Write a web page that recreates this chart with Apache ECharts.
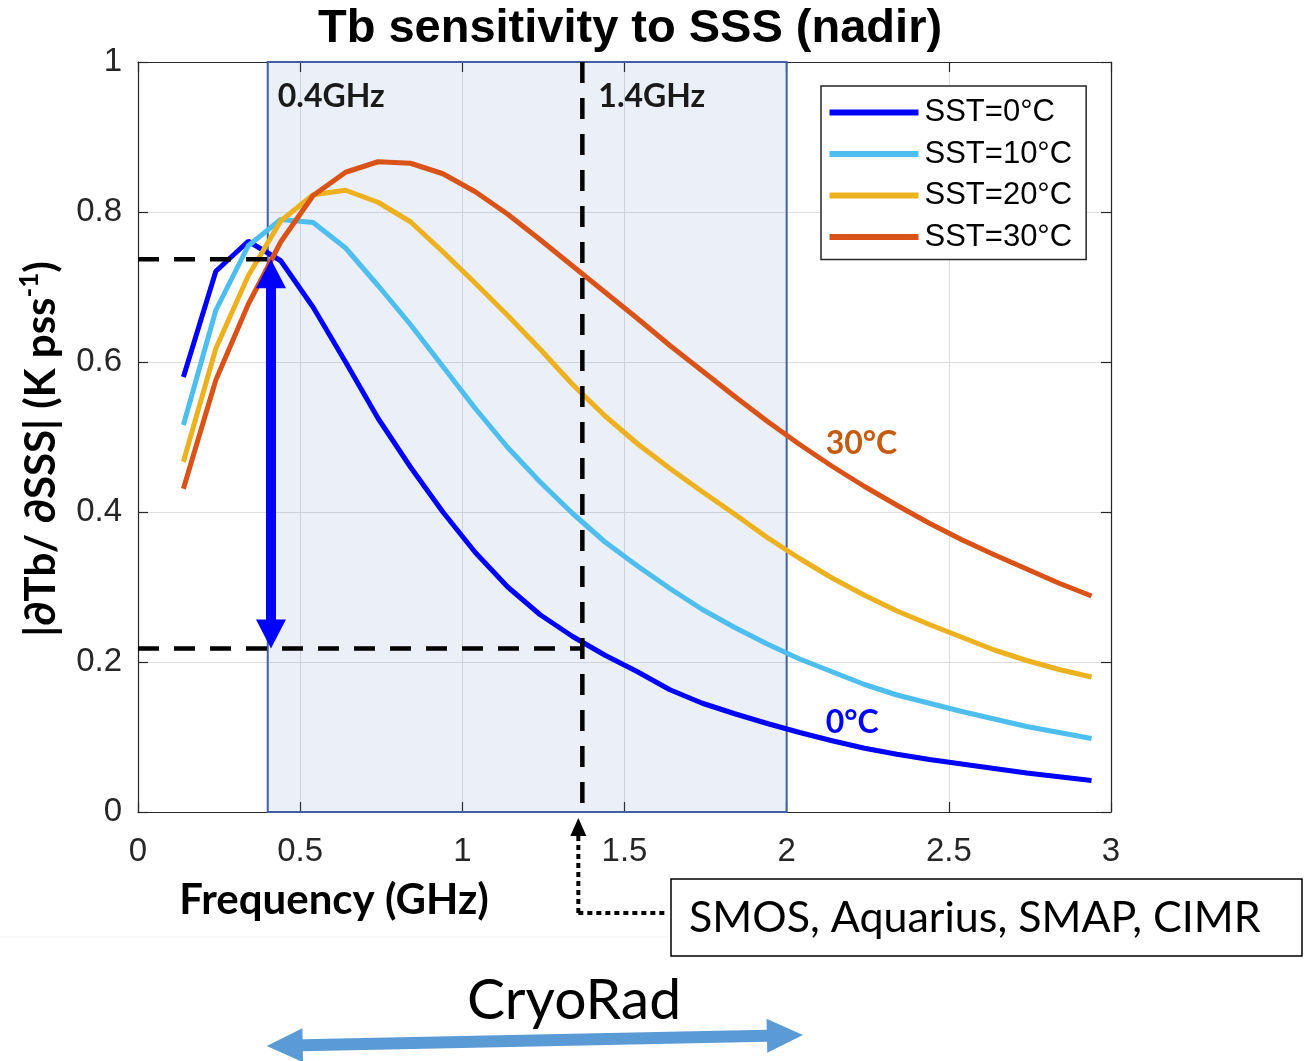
<!DOCTYPE html>
<html><head><meta charset="utf-8">
<script src="https://cdn.jsdelivr.net/npm/echarts@6/dist/echarts.min.js"></script>
<style>html,body{margin:0;padding:0;background:#fff}#c{width:1304px;height:1061px}</style>
</head><body><div id="c"></div>
<script>
// ---------- data ----------
const titleText = 'Tb sensitivity to SSS (nadir)';
const freq = [0.14,0.24,0.34,0.44,0.54,0.64,0.74,0.84,0.94,1.04,1.14,1.24,1.34,1.44,1.54,1.64,1.74,1.84,1.94,2.04,2.14,2.24,2.34,2.44,2.54,2.64,2.74,2.84,2.94];
const sst0  = [0.580,0.721,0.761,0.735,0.673,0.600,0.525,0.460,0.400,0.346,0.300,0.263,0.234,0.209,0.187,0.163,0.145,0.131,0.118,0.106,0.095,0.085,0.077,0.070,0.064,0.058,0.052,0.047,0.042];
const sst10 = [0.516,0.669,0.755,0.790,0.786,0.752,0.702,0.650,0.594,0.538,0.486,0.440,0.398,0.360,0.328,0.298,0.270,0.246,0.224,0.204,0.187,0.170,0.156,0.145,0.134,0.124,0.114,0.106,0.098];
const sst20 = [0.467,0.618,0.715,0.788,0.823,0.829,0.813,0.787,0.747,0.705,0.662,0.617,0.570,0.528,0.491,0.458,0.427,0.397,0.366,0.338,0.312,0.289,0.268,0.250,0.233,0.216,0.202,0.190,0.180];
const sst30 = [0.431,0.576,0.677,0.760,0.822,0.853,0.867,0.865,0.851,0.827,0.797,0.763,0.728,0.693,0.658,0.622,0.588,0.554,0.521,0.490,0.461,0.434,0.409,0.385,0.363,0.343,0.324,0.305,0.288];
const seriesNames = ['SST=0°C','SST=10°C','SST=20°C','SST=30°C'];
const seriesColors = ['#0000ff','#4dbeee','#edb120','#d95319'];
const xRange = [0, 3], xStep = 0.5;
const yRange = [0, 1], yStep = 0.2;
const band = [0.4, 2.0];            // CryoRad band (shaded)
const lowFreq = 0.4, lBand = 1.37;  // 0.4GHz and 1.4GHz markers
const sensHigh = 0.737, sensLow = 0.218;
const arrowX = 0.41;
const cryoRange = [0.4, 2.05];
const bandLabels = ['0.4GHz', '1.4GHz'];
const curveLabels = ['30°C', '0°C'];
const xName = 'Frequency (GHz)';
const boxText = 'SMOS, Aquarius, SMAP, CIMR';
const cryoText = 'CryoRad';

// ---------- chart ----------
const chart = echarts.init(document.getElementById('c'), null, {renderer: 'canvas'});
const allVals = [sst0, sst10, sst20, sst30];
const axisCol = '#262626';
const tickFont = 'Liberation Sans, Arial, sans-serif';
const calFont = 'Lato, "DejaVu Sans", sans-serif';

function arrowPts(x1, y1, x2, y2, sw, hw, hl) {
  const dx = x2 - x1, dy = y2 - y1, L = Math.hypot(dx, dy);
  const ux = dx / L, uy = dy / L, nx = -uy, ny = ux;
  const P = (t, s) => [x1 + ux * t + nx * s, y1 + uy * t + ny * s];
  return [P(0,0), P(hl,hw), P(hl,sw), P(L-hl,sw), P(L-hl,hw), P(L,0), P(L-hl,-hw), P(L-hl,-sw), P(hl,-sw), P(hl,-hw)];
}

const baseAxisX = {
  type: 'value', min: xRange[0], max: xRange[1], interval: xStep,
  axisLine: {show: true, onZero: false, lineStyle: {color: axisCol, width: 1.2}},
  axisTick: {show: true, inside: true, length: 10, lineStyle: {color: axisCol, width: 1.2}},
};
const baseAxisY = {
  type: 'value', min: yRange[0], max: yRange[1], interval: yStep,
  axisLine: {show: true, onZero: false, lineStyle: {color: axisCol, width: 1.2}},
  axisTick: {show: true, inside: true, length: 10, lineStyle: {color: axisCol, width: 1.2}},
};

const lineSeries = seriesNames.map((n, i) => ({
  type: 'line', name: n, data: freq.map((f, k) => [f, allVals[i][k]]),
  showSymbol: false, symbol: 'none', color: seriesColors[i],
  lineStyle: {width: 5, color: seriesColors[i]}, z: 3 + i, silent: true,
  emphasis: {disabled: true}
}));

const option = {
  animation: false,
  backgroundColor: '#fff',
  title: {text: titleText, left: 625, top: 1, textAlign: 'center',
    textStyle: {fontFamily: tickFont, fontWeight: 'bold', fontSize: 47, color: '#000'}},
  grid: {left: 138, top: 62, width: 973, height: 750},
  legend: {
    data: seriesNames, orient: 'vertical', left: 821, top: 86, icon: 'rect',
    itemWidth: 89, itemHeight: 6, itemGap: 10.5, padding: [11, 14, 7, 8.5],
    borderColor: axisCol, borderWidth: 1.5, backgroundColor: '#fff', selectedMode: false,
    textStyle: {fontFamily: tickFont, fontSize: 31, color: '#000', lineHeight: 31, padding: [0,0,0,1]}
  },
  xAxis: [
    Object.assign({}, baseAxisX, {position: 'bottom',
      axisLabel: {fontSize: 33, color: axisCol, margin: 23, fontFamily: tickFont},
      splitLine: {show: true, lineStyle: {color: '#dedede', width: 1}}}),
    Object.assign({}, baseAxisX, {position: 'top', axisLabel: {show: false}, splitLine: {show: false}})
  ],
  yAxis: [
    Object.assign({}, baseAxisY, {position: 'left',
      axisLabel: {fontSize: 33, color: axisCol, margin: 16, fontFamily: tickFont},
      splitLine: {show: true, lineStyle: {color: '#dedede', width: 1}}}),
    Object.assign({}, baseAxisY, {position: 'right', axisLabel: {show: false}, splitLine: {show: false}})
  ],
  series: [
    ...lineSeries,
    { // shaded band
      type: 'custom', name: 'band', silent: true, z: 1,
      data: [[band[0], yRange[0], band[1], yRange[1]]], encode: {x: [0, 2], y: [1, 3]},
      renderItem: (p, api) => {
        const a = api.coord([api.value(0), api.value(3)]);
        const b = api.coord([api.value(2), api.value(1)]);
        return {type: 'rect', shape: {x: a[0], y: a[1], width: b[0] - a[0], height: b[1] - a[1]},
          style: {fill: 'rgba(68,114,196,0.115)', stroke: '#41609f', lineWidth: 2}};
      }
    },
    { // dashed guide lines
      type: 'custom', name: 'guides', silent: true, z: 8,
      data: [[lBand, yRange[1], lBand, yRange[0]], [xRange[0], sensHigh, lowFreq, sensHigh], [xRange[0], sensLow, lBand, sensLow]],
      encode: {x: [0, 2], y: [1, 3]},
      renderItem: (p, api) => {
        const a = api.coord([api.value(0), api.value(1)]);
        const b = api.coord([api.value(2), api.value(3)]);
        return {type: 'line', shape: {x1: a[0], y1: a[1], x2: b[0], y2: b[1]},
          style: {stroke: '#000', lineWidth: 4.5, lineDash: [21, 15]}};
      }
    },
    { // blue double arrow
      type: 'custom', name: 'arrow', silent: true, z: 9,
      data: [[arrowX, sensHigh, arrowX, sensLow]], encode: {x: [0, 2], y: [1, 3]},
      renderItem: (p, api) => {
        const a = api.coord([api.value(0), api.value(1)]);
        const b = api.coord([api.value(2), api.value(3)]);
        return {type: 'polygon', shape: {points: arrowPts(a[0], a[1], b[0], b[1], 5, 15, 29)},
          style: {fill: '#0000ff'}};
      }
    }
  ]
};
chart.setOption(option);

// ---------- annotations positioned from the axes ----------
const px = (x, y) => chart.convertToPixel({seriesIndex: 0}, [x, y]);
const pTop04 = px(lowFreq, yRange[1]);
const pTop14 = px(lBand, yRange[1]);
const p30 = px(band[1], 0.496);
const p0 = px(band[1], 0.12);
const pAxisL = px(lBand, yRange[0]);
const pC0 = px(cryoRange[0], yRange[0]);
const pC1 = px(cryoRange[1], yRange[0]);
const ax = pAxisL[0] - 4;

const graphics = [
  {type: 'text', x: pTop04[0] + 10, y: pTop04[1] + 35, z: 20,
    style: {text: bandLabels[0], font: 'bold 32px ' + calFont, fill: '#1a1a1a', verticalAlign: 'middle'}},
  {type: 'text', x: pTop14[0] + 16, y: pTop14[1] + 35, z: 20,
    style: {text: bandLabels[1], font: 'bold 32px ' + calFont, fill: '#1a1a1a', verticalAlign: 'middle'}},
  {type: 'text', x: p30[0] + 39, y: p30[1] + 4, z: 20,
    style: {text: curveLabels[0], font: 'bold 32px ' + calFont, fill: '#c55a11', verticalAlign: 'middle'}},
  {type: 'text', x: p0[0] + 39, y: p0[1] + 1, z: 20,
    style: {text: curveLabels[1], font: 'bold 32px ' + calFont, fill: '#0000ff', verticalAlign: 'middle'}},
  // axis names
  {type: 'text', x: 334, y: 900, z: 20,
    style: {text: xName, font: 'bold 42px ' + calFont, fill: '#000', align: 'center', verticalAlign: 'middle'}},
  {type: 'text', x: 41, y: 449, rotation: Math.PI / 2, z: 20,
    style: {text: '{a||∂Tb/ ∂SSS| (K pss}{s|-1}{a|)}', align: 'center', verticalAlign: 'middle',
      rich: {a: {fontFamily: calFont, fontWeight: 'bold', fontSize: 42, lineHeight: 48, fill: '#000', color: '#000'},
             s: {fontFamily: calFont, fontWeight: 'bold', fontSize: 26, lineHeight: 26, verticalAlign: 'top', fill: '#000', color: '#000'}}}},
  // faint edge line
  {type: 'line', shape: {x1: 0, y1: 937, x2: 671, y2: 937}, style: {stroke: '#f0f0f0', lineWidth: 1}},
  // dotted pointer to L-band
  {type: 'line', z: 20, shape: {x1: ax, y1: 913, x2: ax, y2: 834}, style: {stroke: '#000', lineWidth: 4, lineDash: [5, 4]}},
  {type: 'line', z: 20, shape: {x1: ax, y1: 913, x2: 667, y2: 913}, style: {stroke: '#000', lineWidth: 4, lineDash: [5, 4]}},
  {type: 'polygon', z: 20, shape: {points: [[ax, pAxisL[1] + 6], [ax + 8, pAxisL[1] + 24], [ax - 8, pAxisL[1] + 24]]}, style: {fill: '#000'}},
  {type: 'rect', z: 20, shape: {x: 671, y: 879, width: 631, height: 77}, style: {fill: '#fff', stroke: '#000', lineWidth: 1.5}},
  {type: 'text', z: 21, x: 689, y: 918,
    style: {text: boxText, font: '43px ' + calFont, fill: '#000', verticalAlign: 'middle'}},
  {type: 'text', z: 21, x: 574, y: 1001,
    style: {text: cryoText, font: '57px ' + calFont, fill: '#000', align: 'center', verticalAlign: 'middle'}},
  {type: 'polygon', z: 20, shape: {points: arrowPts(pC0[0] - 1, 1046, pC1[0], 1035, 6, 17, 36)}, style: {fill: '#5b9bd5'}}
];
chart.setOption({graphic: graphics});
</script>
</body></html>
